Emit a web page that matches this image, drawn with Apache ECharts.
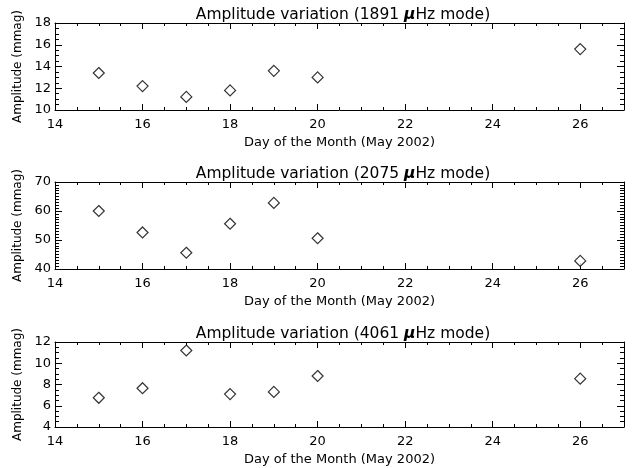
<!DOCTYPE html>
<html style="height: 100%">
<head>
<meta charset="utf-8">
<script src="https://cdn.jsdelivr.net/npm/echarts@6/dist/echarts.min.js"></script>
</head>
<body style="height: 100%; margin: 0; background: #fff">
<div id="container" style="width: 639px; height: 468px;"></div>
<script type="text/javascript">
// days of May 2002
var days = [15, 16, 17, 18, 19, 20, 26];
// amplitudes (mmag) for each mode
var amp1891 = [13.4, 12.2, 11.2, 11.8, 13.6, 13.0, 15.6];
var amp2075 = [60.0, 52.6, 45.6, 55.6, 62.8, 50.6, 42.8];
var amp4061 = [6.75, 7.65, 11.2, 7.1, 7.3, 8.8, 8.55];
var modes = ['1891', '2075', '4061'];
var yMin = [10, 40, 4];
var yMax = [18, 70, 12];
var yStep = [2, 10, 2];
var yMinor = [4, 10, 4];

var allAmps = [amp1891, amp2075, amp4061];
var gridTops = [23, 182, 342];
var gridHeights = [87, 87, 85];
var font = 'DejaVu Sans';

var dom = document.getElementById('container');
var myChart = echarts.init(dom);

var grids = [], xAxes = [], yAxes = [], series = [], titles = [];
for (var i = 0; i < 3; i++) {
    grids.push({left: 55, right: 15, top: gridTops[i], height: gridHeights[i]});
    titles.push({
        text: 'Amplitude variation (' + modes[i] + ' {mu|μ}Hz mode)',
        left: 338, top: gridTops[i] - 21, textAlign: 'center',
        textStyle: {
            fontFamily: font, fontSize: 15.5, fontWeight: 'normal', color: '#000',
            rich: {mu: {fontFamily: font, fontSize: 15.5, fontWeight: 'bold', fontStyle: 'italic', color: '#000'}}
        }
    });
    var xBase = {
        type: 'value', gridIndex: i, min: 14, max: 27, interval: 2,
        axisLine: {show: true, onZero: false, lineStyle: {color: '#000', width: 1}},
        axisTick: {show: true, inside: true, length: 6, lineStyle: {color: '#000'}},
        minorTick: {show: true, splitNumber: 4, length: 3, lineStyle: {color: '#000'}},
        splitLine: {show: false}
    };
    xAxes.push(Object.assign({}, xBase, {
        position: 'bottom',
        name: 'Day of the Month (May 2002)', nameLocation: 'middle', nameGap: 26,
        nameTextStyle: {fontFamily: font, fontSize: 13, color: '#000'},
        axisLabel: {
            fontFamily: font, fontSize: 13, color: '#000', margin: 8,
            showMinLabel: true,
            formatter: function (v) { return v % 2 === 0 ? v : ''; }
        }
    }));
    xAxes.push(Object.assign({}, xBase, {position: 'top', axisLabel: {show: false}}));
    var yBase = {
        type: 'value', gridIndex: i, min: yMin[i], max: yMax[i], interval: yStep[i],
        axisLine: {show: true, onZero: false, lineStyle: {color: '#000', width: 1}},
        axisTick: {show: true, inside: true, length: 7, lineStyle: {color: '#000'}},
        minorTick: {show: true, splitNumber: yMinor[i], length: 4, lineStyle: {color: '#000'}},
        splitLine: {show: false}
    };
    yAxes.push(Object.assign({}, yBase, {
        position: 'left',
        name: 'Amplitude (mmag)', nameLocation: 'middle', nameGap: 24,
        nameTextStyle: {fontFamily: font, fontSize: 12, color: '#000'},
        axisLabel: {fontFamily: font, fontSize: 13, color: '#000', margin: 4, showMinLabel: true, showMaxLabel: true}
    }));
    yAxes.push(Object.assign({}, yBase, {position: 'right', axisLabel: {show: false}}));
    series.push({
        type: 'scatter', xAxisIndex: i * 2, yAxisIndex: i * 2,
        symbol: 'diamond', symbolSize: [11, 11],
        itemStyle: {color: '#fff', borderColor: '#000', borderWidth: 1.2},
        data: days.map(function (d, k) { return [d, allAmps[i][k]]; })
    });
}

var option = {
    backgroundColor: '#fff',
    animation: false,
    title: titles,
    grid: grids,
    xAxis: xAxes,
    yAxis: yAxes,
    series: series
};
myChart.setOption(option);
</script>
</body>
</html>
